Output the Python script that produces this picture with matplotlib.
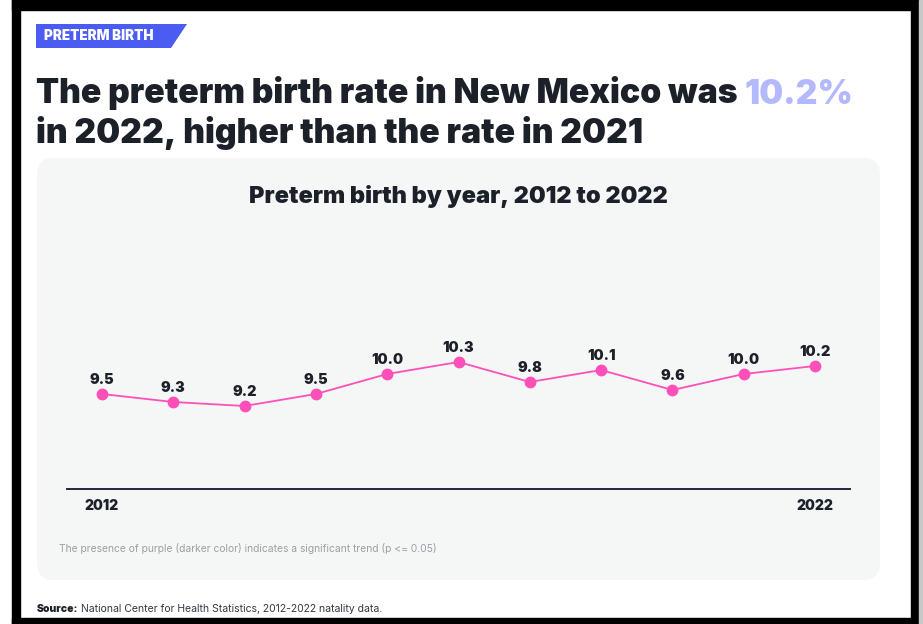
import matplotlib
matplotlib.use("Agg")
import matplotlib.pyplot as plt
from matplotlib.patches import FancyBboxPatch, Polygon, Rectangle

years = [2012, 2013, 2014, 2015, 2016, 2017, 2018, 2019, 2020, 2021, 2022]
rates = [9.5, 9.3, 9.2, 9.5, 10.0, 10.3, 9.8, 10.1, 9.6, 10.0, 10.2]
end_labels = ["2012", "2022"]

W, H = 923, 624
plt.rcParams['font.family'] = ['Inter', 'DejaVu Sans']
fig = plt.figure(figsize=(W / 100, H / 100), dpi=100)
fig.patch.set_facecolor('white')

def fx(px):
    return px / W

def fy(py):
    return 1 - py / H

HEAVY = 900

# outer black frame
frame_col = '#000000'
for r in [Rectangle((fx(12), fy(10)), fx(906), fy(0) - fy(10) + 0.01),
          Rectangle((fx(12), 0), fx(8), 1),
          Rectangle((fx(911), 0), fx(8), 1),
          Rectangle((fx(12), 0), fx(906), fy(618))]:
    r.set_transform(fig.transFigure)
    r.set_color(frame_col)
    r.set_zorder(-2)
    fig.patches.append(r)
edge = Rectangle((fx(919), 0), fx(4), 1, transform=fig.transFigure, color='#c8c8c8', zorder=-2)
fig.patches.append(edge)

# grey panel
panel = FancyBboxPatch((fx(37), fy(580)), fx(843), fy(158) - fy(580),
                       boxstyle="round,pad=0,rounding_size=0.018",
                       transform=fig.transFigure, facecolor='#f5f7f7', edgecolor='none', zorder=-1,
                       mutation_aspect=W / H)
fig.patches.append(panel)

# badge
badge = Polygon([(fx(36), fy(24)), (fx(187), fy(24)), (fx(171), fy(48)), (fx(36), fy(48))],
                closed=True, transform=fig.transFigure, facecolor='#4b5cf2', edgecolor='none', zorder=-1)
fig.patches.append(badge)
fig.text(fx(44), fy(36.5), "PRETERM BIRTH", color='white', fontsize=9.7, fontweight=HEAVY, va='center', ha='left')

# headline
title_col = '#1c2029'
t1 = fig.text(fx(36), fy(103.5), "The preterm birth rate in New Mexico was ", color=title_col,
              fontsize=24.3, fontweight=HEAVY, va='baseline', ha='left')
fig.text(fx(36), fy(143.5), "in 2022, higher than the rate in 2021", color=title_col,
         fontsize=24.3, fontweight=HEAVY, va='baseline', ha='left')
fig.canvas.draw()
bb = t1.get_window_extent(renderer=fig.canvas.get_renderer())
fig.text(bb.x1 / W, fy(103.5), "10.2%", color='#b4b9fd', fontsize=24.3, fontweight=HEAVY, va='baseline', ha='left')

# chart title
fig.text(fx(458), fy(196), "Preterm birth by year, 2012 to 2022", color=title_col,
         fontsize=17, fontweight=HEAVY, va='center', ha='center')

# axes
ax = fig.add_axes([fx(67), fy(489), fx(850) - fx(67), fy(300) - fy(489)])
ax.set_zorder(2)
ax.set_facecolor('none')
ax.plot(years, rates, color='#ff4fb8', linewidth=1.3, marker='o', markersize=7.5, zorder=3)
ax.set_xlim(2012 - 35 / 71.3, 2022 + 35 / 71.3)
ax.set_ylim(9.5 - 95 / 40, 9.5 + 94 / 40)
for s in ['top', 'right', 'left']:
    ax.spines[s].set_visible(False)
ax.spines['bottom'].set_color('#1f2740')
ax.spines['bottom'].set_linewidth(1.4)
ax.set_yticks([])
ax.set_xticks([years[0], years[-1]])
ax.set_xticklabels(end_labels, fontsize=10, fontweight=HEAVY, color=title_col)
ax.tick_params(axis='x', length=0, pad=7)
for x, y in zip(years, rates):
    ax.annotate(f"{y:.1f}", (x, y), xytext=(0, 5), textcoords='offset points',
                ha='center', va='bottom', fontsize=10.3, fontweight=HEAVY, color=title_col)

fig.text(fx(59), fy(549), "The presence of purple (darker color) indicates a significant trend (p <= 0.05)",
         color='#9a9fa5', fontsize=7.4, va='center', ha='left')

s1 = fig.text(fx(37), fy(609), "Source:", color=title_col, fontsize=7.5, fontweight=HEAVY, va='center', ha='left')
fig.canvas.draw()
bb2 = s1.get_window_extent(renderer=fig.canvas.get_renderer())
fig.text(bb2.x1 / W + fx(3), fy(609), "National Center for Health Statistics, 2012-2022 natality data.",
         color='#333844', fontsize=7.5, va='center', ha='left')

fig.savefig("out.png", dpi=100)
